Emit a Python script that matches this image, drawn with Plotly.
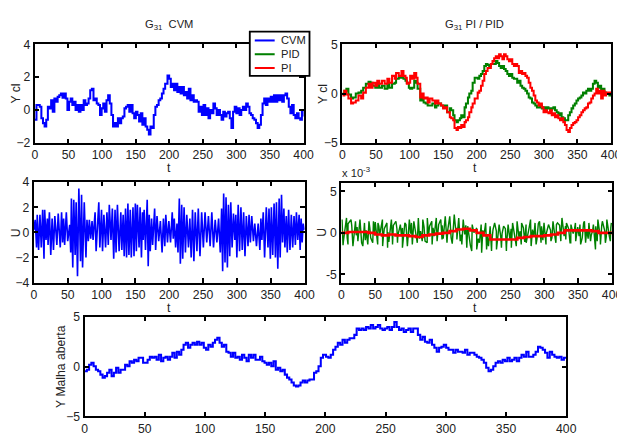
import numpy as np
import plotly.graph_objects as go

# the page is photographed slightly reduced (about 0.984), so the figure is
# laid out a little larger and positions are given as fractions of 617 x 440
REF_W, REF_H = 617, 440
ZOOM = 0.984
W, H = round(REF_W / ZOOM), round(REF_H / ZOOM)
K = 1 / ZOOM
BLUE, GREEN, RED = "#0000ff", "#008000", "#ff0000"
FONT = "Arial, Liberation Sans, sans-serif"
TXT = "#222222"

# ---------------- closed loop output, CVM controller ----------------
CVM_Y_A = [-0.6, 0.3, 0.3, 0.2, -0.5, -0.8, -1.0, -0.6, 0.2, 0.1,
           0.6, -0.1, 0.7, 0.5, 0.8, 0.9, 1.0, 0.75, 1.0, 0.7,
           0.0, 0.5, 0.7, 0.3, 0.5, 0.0, 0.3, -0.1, 0.3, 0.0,
           0.6, 0.3, 0.4, 0.7, 1.2, 1.3, 0.6, 0.7, 0.4, 0.3,
           -0.3, 0.1, 0.4, -0.1, 0.6, 0.9, 0.4, -0.3, -1.0, -0.8,
           -1.0, -0.5, -0.8, -0.5, -0.4, 0.1, 0.2, 0.3, -0.1, 0.3,
           -0.2, -0.5, -0.1, -0.3, -0.7, -0.2, -0.9, -0.5, -1.0, -1.2,
           -1.5, -1.0, -1.1, -0.3, 0.2, 0.3, 0.6, 0.7, 1.0, 1.3,
           1.6]
CVM_Y_B = [2.1, 1.9, 1.4, 1.6, 1.2, 1.6, 1.1, 1.4, 1.0, 1.4,
           0.9, 1.1, 0.7, 1.3, 0.6, 0.9, 0.5, 0.6, 0.5, -0.1,
           0.2, -0.3, 0.3, -0.3, 0.1, -0.5, 0.0, -0.2, 0.4, 0.1,
           -0.3, 0.0, -0.3, -0.6, -0.1, -0.4, -0.2, -0.1, -0.5, -1.1,
           -0.1, 0.2, -0.2, 0.1, -0.3, 0.0, 0.2, 0.0, 0.4, 0.2,
           -0.2, -0.3, -0.5, -0.6, -0.8, -1.1, -0.9, -0.3, 0.4, 0.7,
           0.3, 0.7, 0.5, 0.8, 0.5, 0.9, 0.5, 0.9, 0.6, 0.9,
           0.5, 0.9, 1.0, 0.7, 0.2, -0.2, 0.3, -0.3, -0.5, -0.2,
           -0.5, -0.6, -0.1, -0.4]
CVM_T = list(np.linspace(0, 194, len(CVM_Y_A))) + list(np.linspace(197.5, 400, len(CVM_Y_B)))
CVM_Y = CVM_Y_A + CVM_Y_B

# ---------------- closed loop output, PI and PID controllers ----------------
PP_T_A = [0, 3, 6, 9, 13, 16, 20, 24, 28, 31, 35, 39, 42, 45, 49, 52, 55, 59, 63, 67,
          70, 74, 78, 80, 84, 88, 91, 94, 96, 99, 101, 104, 107, 110, 112, 116, 118, 121, 124, 127,
          130, 134, 138, 140, 143, 147, 150, 153, 156, 160, 162, 165, 167, 170, 172, 175, 177, 179, 182, 184,
          187, 189, 192, 194, 197, 199]
PI_Y_A = [-0.2, 0.3, -0.1, -0.5, -1.0, -0.9, -0.7, -0.2, -0.5, 0.1,
          0.6, 1.0, 0.6, 1.1, 0.8, 1.3, 1.0, 1.3, 1.0, 1.5,
          1.1, 1.8, 1.5, 2.1, 1.8, 2.3, 1.8, 1.6, 1.0, 1.1,
          1.8, 1.5, 2.1, 1.6, 1.0, -0.4, 0.0, -0.5, -0.4, -0.9,
          -0.5, -0.7, -1.0, -0.7, -1.0, -1.2, -1.5, -1.4, -1.9, -2.4,
          -2.5, -2.7, -3.5, -3.7, -3.4, -3.5, -3.2, -3.4, -2.9, -2.7,
          -2.4, -1.9, -1.4, -1.0, -0.5, -0.5]
PID_Y_A = [0.0, 0.3, 0.5, -0.1, -0.5, -0.4, 0.0, 0.1, 0.3, 0.6,
           1.0, 1.2, 1.1, 0.8, 0.6, 1.0, 0.6, 0.8, 0.5, 1.0,
           0.6, 1.0, 1.1, 1.5, 1.6, 1.6, 1.5, 1.3, 1.1, 0.6,
           0.5, 0.6, 1.3, 1.1, 0.5, -0.7, -0.5, -0.9, -1.0, -1.2,
           -1.2, -1.0, -1.4, -1.2, -1.0, -1.2, -1.4, -1.2, -1.9, -1.5,
           -1.7, -2.2, -2.7, -2.9, -2.7, -2.5, -2.2, -2.4, -1.4, -1.0,
           -0.4, 0.0, 0.3, 1.1, 1.6, 1.6]
PI_Y_B = [0.1, 0.3, 0.8, 1.3, 2.0, 2.3, 2.6, 2.6, 3.0, 3.3,
          3.6, 3.8, 3.6, 4.0, 3.8, 3.5, 4.0, 3.8, 3.5, 3.3,
          3.5, 3.0, 2.8, 3.0, 2.8, 2.1, 2.3, 2.0, 2.1, 1.8,
          1.6, 1.1, 0.6, 0.3, -0.2, -0.7, -0.9, -1.2, -1.0, -1.4,
          -1.9, -1.7, -1.9, -2.0, -1.7, -2.2, -2.0, -2.4, -2.2, -2.5,
          -2.7, -2.5, -2.9, -3.2, -3.7, -3.9, -3.5, -3.2, -3.0, -2.9,
          -2.7, -2.4, -2.2, -1.9, -1.7, -1.5, -1.4, -1.0, -0.9, -0.5,
          -0.2, 0.0, 0.5, 0.0, 0.3, -0.5, 0.3, -0.2, 0.1, 0.0,
          0.1, 0.0]
PID_Y_B = [1.5, 1.8, 2.0, 2.3, 2.8, 3.0, 2.9, 2.8, 3.0, 3.0,
           3.0, 3.3, 3.1, 2.8, 2.6, 2.8, 2.5, 2.3, 2.0, 1.8,
           2.0, 1.6, 1.5, 1.5, 1.1, 1.3, 0.8, 0.6, 0.5, 0.3,
           0.0, -0.4, -0.5, -0.9, -1.0, -1.2, -1.4, -1.4, -1.2, -1.5,
           -1.4, -1.7, -1.4, -1.5, -1.7, -1.5, -1.4, -1.7, -1.9, -2.2,
           -2.0, -2.4, -2.5, -2.7, -2.7, -2.2, -1.9, -1.5, -1.2, -1.0,
           -0.7, -0.5, -0.4, -0.2, 0.1, 0.0, 0.3, 0.5, 0.3, 0.5,
           1.0, 1.3, 1.1, 0.6, 0.8, 0.3, 0.5, 0.1, 0.0, 0.0,
           -0.2, 0.0]
PP_T = PP_T_A + list(np.linspace(201.5, 400, len(PI_Y_B)))
PI_Y = PI_Y_A + PI_Y_B
PID_Y = PID_Y_A + PID_Y_B

# ---------------- control signal, CVM ----------------
U_T = [0, 2, 4, 5, 7, 9, 11, 13, 15, 16,
       18, 20, 21, 23, 25, 27, 29, 31, 34, 36,
       39, 41, 42.5, 44, 45.5, 48, 50, 53, 54.5, 55.5,
       57.5, 59, 61, 62.5, 64.5, 66.5, 69, 70.5, 72, 74.5,
       77, 78.5, 80.5, 82, 84, 86, 87.5, 90.5, 92, 96,
       97.5, 100, 101.5, 103.5, 106, 108, 110, 111.5, 114, 116,
       118, 120, 121.5, 123.5, 126, 128.5, 130, 132, 133.5, 135.5,
       137, 139, 140.5, 142.5, 144, 146.5, 148, 150, 151.5, 153,
       155.5, 157, 159, 160.5, 161.5, 163, 165, 167.5, 169, 170.5,
       172, 174, 175.5, 178.5, 180, 182, 184.5, 187, 189.5, 191.5,
       193.5, 195, 197.5, 199.5, 202, 204.5, 206, 207.5, 209.5, 211.5,
       213, 215, 216.5, 218.5, 220, 222, 224, 226, 228.5, 230.5,
       232.5, 234.5, 236.5, 238.5, 241, 243, 245.5, 248, 250.5, 253,
       255.5, 258, 260.5, 263, 265.5, 268, 270.5, 273, 275.5, 277.5,
       279, 280.5, 282.5, 284, 286, 287.5, 289.5, 291, 293, 295,
       297, 298.5, 300, 302, 304, 306, 308, 310, 312, 314,
       316.5, 318, 320, 322, 324.5, 326.5, 329, 331.5, 334, 335.5,
       337, 339, 341, 343.5, 346, 347.5, 349.5, 351, 353, 355,
       357, 358.5, 360.5, 362.5, 364, 366, 367.5, 369.5, 371, 373,
       374.5, 376.5, 378.5, 380.5, 382.5, 384.5, 386.5, 388, 390, 392,
       393.5, 395, 396.5, 398, 400]
U_V = [0.2, 1.0, -1.2, 1.4, -1.4, 1.4, -1.2, 1.8, -2.1, 1.8,
       -0.6, 1.1, -1.0, 1.6, -1.8, 1.1, -1.4, 1.3, -1.0, 1.5,
       -1.2, 1.6, -0.8, 1.1, -1.0, 1.6, -0.7, 0.6, -1.6, 2.7,
       -2.8, 2.6, -1.8, 2.4, -3.5, 3.5, -2.3, 3.0, -2.8, 2.4,
       -2.0, 1.0, -0.7, 1.0, -0.5, 0.9, -0.6, 1.6, -1.5, 2.4,
       -1.2, 1.8, -1.5, 1.4, -1.2, 1.6, -1.0, 2.2, -0.6, 1.9,
       -2.1, 1.8, -1.6, 2.2, -1.5, 1.6, -1.4, 1.4, -1.9, 1.9,
       -2.0, 2.3, -1.8, 1.8, -2.0, 2.0, -1.9, 2.3, -1.5, 2.2,
       -1.2, 2.0, -2.0, 1.6, -0.6, 1.8, -1.4, 2.6, -2.7, 1.4,
       -1.5, 1.1, -1.0, 1.9, -1.4, 1.3, -0.7, 0.9, -1.6, 1.1,
       -1.1, 1.4, -0.8, 0.9, -0.8, 1.6, -0.5, 1.1, -1.2, 0.7,
       -1.6, 2.7, -2.5, 2.2, -2.1, 2.0, -1.6, 1.4, -1.2, 1.1,
       -2.0, 1.8, -2.3, 1.6, -1.5, 1.9, -1.9, 1.6, -1.2, 1.6,
       -0.8, 1.3, -1.1, 1.6, -1.2, 1.0, -0.8, 1.1, -1.6, 1.9,
       -3.1, 3.1, -2.4, 2.8, -2.8, 2.2, -1.9, 2.4, -1.2, 1.5,
       -0.6, 1.4, -2.0, 2.2, -1.5, 2.0, -1.4, 1.6, -1.9, 1.3,
       -1.1, 1.4, -0.8, 1.3, -0.7, 0.7, -1.1, 0.7, -1.4, 1.1,
       -0.6, 1.6, -2.0, 2.0, -1.2, 1.9, -2.1, 2.0, -1.8, 2.3,
       -2.0, 2.4, -2.9, 2.7, -2.0, 3.0, -0.8, 1.9, -1.2, 1.3,
       -1.6, 1.8, -1.4, 1.4, -1.2, 1.3, -1.0, 1.6, -0.6, 1.4,
       -1.4, 1.1, -0.8, 0.7, 0.2]

# ---------------- control signals, PID (noisy) and PI (smooth), x 1e-3 ----------------
UPID_HI = [1.6, 1.8, 1.6, 1.4, 1.6, 1.2, 1.4, 1.4, 1.2, 1.6,
           1.2, 1.6, 1.4, 1.0, 1.2, 1.6, 1.4, 1.8, 1.6, 1.8,
           1.4, 1.8, 1.6, 2.0, 2.0, 2.2, 1.8, 1.6, 0.8, 1.0,
           0.6, 1.0, 1.2, 0.8, 1.2, 1.0, 0.8, 1.0, 1.2, 1.4,
           1.2, 1.0, 1.6, 1.2, 1.4, 1.2, 1.0, 1.4, 1.2, 1.8,
           1.2, 1.0, 1.2, 1.0, 1.4, 1.2, 1.0, 1.6, 1.4, 1.6,
           1.2]
UPID_LO = [-1.5, -1.4, -1.6, -1.0, -1.6, -1.4, -1.2, -1.4, -1.6, -1.8,
           -1.4, -1.2, -1.8, -1.6, -1.4, -1.2, -1.0, -1.2, -1.4, -1.0,
           -0.8, -1.2, -1.0, -0.8, -1.4, -1.8, -2.2, -2.0, -2.4, -2.0,
           -2.2, -2.0, -1.8, -2.2, -1.8, -1.6, -1.4, -1.2, -1.6, -1.4,
           -1.2, -1.4, -1.0, -1.2, -1.0, -0.8, -1.2, -1.0, -1.4, -1.2,
           -1.0, -2.0, -1.4, -1.2, -1.0]
UPID_MID = [0.4, -0.6, 0.9, -0.3, 0.2, -0.9, 0.6, -0.2, 0.8, -0.5,
            0.1, -0.8, 0.5, -0.4, 1.0, -0.1, 0.3, -0.7, 0.7, -0.3,
            0.6, -0.5, 0.9, 0.2, -0.6, 0.4, -1.0, -0.2, -0.9, 0.1,
            -0.7, 0.3, -0.4, -1.1, 0.2, -0.6, 0.5, -0.8, 0.0, -0.5,
            0.6, -0.3, 0.4, -0.7, 0.8, -0.2, 0.3, -0.6, 0.9, -0.4,
            0.5, -0.1, 0.7, -0.6, 0.4, -0.3, 0.8, -0.5, 0.2, -0.4]
UPID_MID2 = [-0.9, 1.1, -0.4, 0.7, -1.2, 0.3, -0.6, 1.3, -0.2, 0.5,
             -1.1, 0.9, -0.3, 0.6, -0.8, 1.2, -0.5, 0.2, -1.0, 0.8,
             -0.4, 1.0, -0.7, 0.3, -1.3, 0.6, -0.2, 0.9, -1.5, 0.1,
             -1.2, -0.3, -1.6, 0.4, -1.0, -0.1, -1.4, 0.5, -0.8, 0.2,
             -1.1, 0.7, -0.5, 1.1, -0.9, 0.4, -0.6, 1.0, -0.3, 0.8,
             -1.2, 0.5, -0.4, 1.2, -0.7, 0.3, -1.0, 0.9, -0.5, 0.6]
UPI_T = list(range(0, 401, 10))
UPI_V = [0.0, 0.1, 0.1, 0.1, 0.0, -0.2, -0.3, -0.2, -0.3, -0.3,
         -0.4, -0.5, -0.3, -0.2, -0.1, 0.0, 0.2, 0.4, 0.5, 0.3,
         0.0, -0.3, -0.8, -0.8, -0.8, -0.8, -0.6, -0.5, -0.4, -0.4,
         -0.3, -0.2, 0.0, 0.3, 0.3, 0.3, 0.3, 0.2, 0.0, 0.0,
         0.0]

t_all = np.concatenate([np.linspace(1, 399, len(UPID_HI)),
                        np.linspace(2.5, 397.5, len(UPID_LO)),
                        np.linspace(2, 396, len(UPID_MID)),
                        np.linspace(3.2, 398.2, len(UPID_MID2))])
v_all = np.concatenate([UPID_HI, UPID_LO, UPID_MID, UPID_MID2])
order = np.argsort(t_all, kind="stable")
UPID_T = t_all[order]
UPID_V = v_all[order] * 1e-3

# ---------------- open loop output ----------------
YOL_A = [-0.45, -0.3, 0.2, 0.4, 0.05, -0.3, -0.45, -0.8, -1.1, -0.95,
         -0.6, -0.3, -0.95, -0.6, -0.1, -0.6, -0.3, -0.3, 0.2, 0.05,
         0.55, 0.4, 0.7, 0.55, 0.9, 0.9, 0.4, 0.4, 0.7, 1.0,
         0.9, 1.0, 0.7, 1.2, 0.55, 0.9, 1.0, 0.7, 1.0, 1.4,
         0.9, 1.5, 1.2, 1.7, 2.2, 2.4, 1.9, 2.2, 2.4, 2.2,
         2.5, 2.2, 2.4, 1.9, 1.7, 2.2, 2.0, 2.4, 2.7, 2.9,
         2.4, 2.0, 2.2, 1.5, 1.4, 1.0, 1.4, 0.9, 1.0, 0.7,
         1.2, 0.9, 0.55, 1.2, 0.9, 1.2, 0.7, 0.7, 1.0, 0.55,
         0.4, 0.2, 0.4, 0.05, 0.55, -0.3, -0.1, -0.45, -0.3, -0.8,
         -1.1, -1.3, -1.6, -1.9, -2.0, -1.9, -1.6, -1.4, -1.6, -1.4,
         -1.3, -1.3, -0.6, -0.45, 0.05, 0.9, 1.2]
YOL_B = [1.0, 0.9, 1.2, 1.7, 2.0, 2.4, 2.2, 2.7, 2.4, 2.7,
         2.85, 2.85, 3.2, 3.85, 3.7, 3.85, 3.7, 4.0, 3.85, 4.2,
         3.85, 4.0, 4.2, 3.85, 3.7, 3.85, 4.0, 3.7, 4.0, 4.5,
         4.0, 3.7, 3.85, 3.5, 3.7, 3.85, 3.5, 3.85, 3.85, 3.2,
         2.7, 3.0, 2.5, 2.4, 2.7, 2.2, 1.9, 1.5, 1.9, 2.0,
         2.2, 1.9, 1.7, 1.7, 1.4, 1.7, 1.5, 1.5, 1.4, 1.7,
         1.2, 1.4, 1.4, 1.2, 1.0, 0.9, 0.7, 0.4, -0.1, -0.45,
         -0.3, 0.05, 0.4, 0.55, 0.4, 0.7, 0.55, 0.9, 0.55, 0.7,
         0.9, 0.55, 0.9, 1.2, 1.0, 1.5, 1.0, 1.0, 1.2, 1.5,
         2.0, 1.9, 1.7, 1.4, 0.9, 1.5, 1.2, 1.0, 0.9, 1.0,
         0.7, 0.9, 1.0]
YOL_T = list(np.linspace(0, 198, len(YOL_A))) + list(np.linspace(200.5, 400, len(YOL_B)))
YOL = YOL_A + YOL_B

LEGEND_NAMES = ["CVM", "PID", "PI"]
LEGEND_COLORS = [BLUE, GREEN, RED]

# ---------------- figure ----------------
fig = go.Figure()
LW = 2 * K

fig.add_trace(go.Scatter(x=CVM_T, y=CVM_Y, mode="lines", name="CVM",
                         line=dict(color=BLUE, width=LW, shape="hv"), xaxis="x", yaxis="y"))
fig.add_trace(go.Scatter(x=PP_T, y=PID_Y, mode="lines", name="PID",
                         line=dict(color=GREEN, width=LW, shape="hv"), xaxis="x2", yaxis="y2"))
fig.add_trace(go.Scatter(x=PP_T, y=PI_Y, mode="lines", name="PI",
                         line=dict(color=RED, width=LW, shape="hv"), xaxis="x2", yaxis="y2"))
fig.add_trace(go.Scatter(x=U_T, y=U_V, mode="lines",
                         line=dict(color=BLUE, width=1.6 * K), xaxis="x3", yaxis="y3"))
fig.add_trace(go.Scatter(x=UPID_T, y=UPID_V, mode="lines",
                         line=dict(color=GREEN, width=1.4 * K), xaxis="x4", yaxis="y4"))
fig.add_trace(go.Scatter(x=UPI_T, y=np.array(UPI_V) * 1e-3, mode="lines",
                         line=dict(color=RED, width=2.6 * K, shape="hv"), xaxis="x4", yaxis="y4"))
fig.add_trace(go.Scatter(x=YOL_T, y=YOL, mode="lines",
                         line=dict(color=BLUE, width=LW, shape="hv"), xaxis="x5", yaxis="y5"))


def px(x):
    return x / REF_W


def py(y):
    return 1 - y / REF_H


def xdom(a, b):
    return [px(a), px(b)]


def ydom(top, bottom):
    return [py(bottom), py(top)]


def ax(**kw):
    d = dict(showline=True, linecolor="black", linewidth=2 * K, mirror="ticks",
             ticks="inside", ticklen=4 * K, tickwidth=1.5 * K, tickcolor="black",
             showgrid=False, zeroline=False,
             tickfont=dict(family=FONT, size=12 * K, color=TXT))
    d.update(kw)
    return d


XT = dict(range=[0, 400], tickvals=list(range(0, 401, 50)))

fig.update_layout(
    width=W, height=H, margin=dict(l=0, r=0, t=0, b=0),
    paper_bgcolor="white", plot_bgcolor="white",
    font=dict(family=FONT, size=12 * K, color=TXT),
    showlegend=False,
    xaxis=ax(domain=xdom(32, 302), anchor="y", **XT),
    yaxis=ax(domain=ydom(38, 138), anchor="x", range=[-2, 4], tickvals=[-2, 0, 2, 4]),
    xaxis2=ax(domain=xdom(341, 611), anchor="y2", **XT),
    yaxis2=ax(domain=ydom(38, 138), anchor="x2", range=[-5, 5], tickvals=[-5, 0, 5]),
    xaxis3=ax(domain=xdom(31, 303), anchor="y3", **XT),
    yaxis3=ax(domain=ydom(178, 280), anchor="x3", range=[-4, 4], tickvals=[-4, -2, 0, 2, 4]),
    xaxis4=ax(domain=xdom(340, 612), anchor="y4", **XT),
    yaxis4=ax(domain=ydom(179, 280), anchor="x4", range=[-0.006, 0.006],
              tickvals=[-0.005, 0, 0.005], ticktext=["-5", "0", "5"]),
    xaxis5=ax(domain=xdom(82, 566), anchor="y5", **XT),
    yaxis5=ax(domain=ydom(315, 416), anchor="x5", range=[-5, 5], tickvals=[-5, 0, 5]),
)


def label(text, x, y, rot=0, size=12, xanchor="center"):
    fig.add_annotation(text=text, x=px(x), y=py(y), xref="paper", yref="paper",
                       showarrow=False, textangle=rot, xanchor=xanchor, yanchor="middle",
                       font=dict(family=FONT, size=size * K, color=TXT))


# legend box drawn over the top-left axes corner
fig.add_shape(type="rect", xref="paper", yref="paper", layer="above",
              x0=px(248), x1=px(308), y0=py(70), y1=py(25),
              line=dict(color="black", width=1.8 * K), fillcolor="white")
for i, (name, col) in enumerate(zip(LEGEND_NAMES, LEGEND_COLORS)):
    ry = 34 + 14 * i
    fig.add_shape(type="line", xref="paper", yref="paper", layer="above",
                  x0=px(253), x1=px(273), y0=py(ry), y1=py(ry),
                  line=dict(color=col, width=2 * K))
    label(name, 277, ry, size=11, xanchor="left")

label("G<sub>31</sub>  CVM", 167, 18, size=11)
label("G<sub>31</sub> PI / PID", 474, 18, size=11)
for cx in (167, 474):
    label("t", cx, 164)
    label("t", cx, 306)
label("t", 324, 445)
label("Y cl", 13, 88, rot=-90)
label("Y cl", 321, 88, rot=-90)
label("U", 13, 229, rot=-90)
label("U", 321, 229, rot=-90)
label("Y Malha aberta", 58, 365, rot=-90)
label("x 10<sup>-3</sup>", 355, 168, size=11)

fig.write_html("out.html")
